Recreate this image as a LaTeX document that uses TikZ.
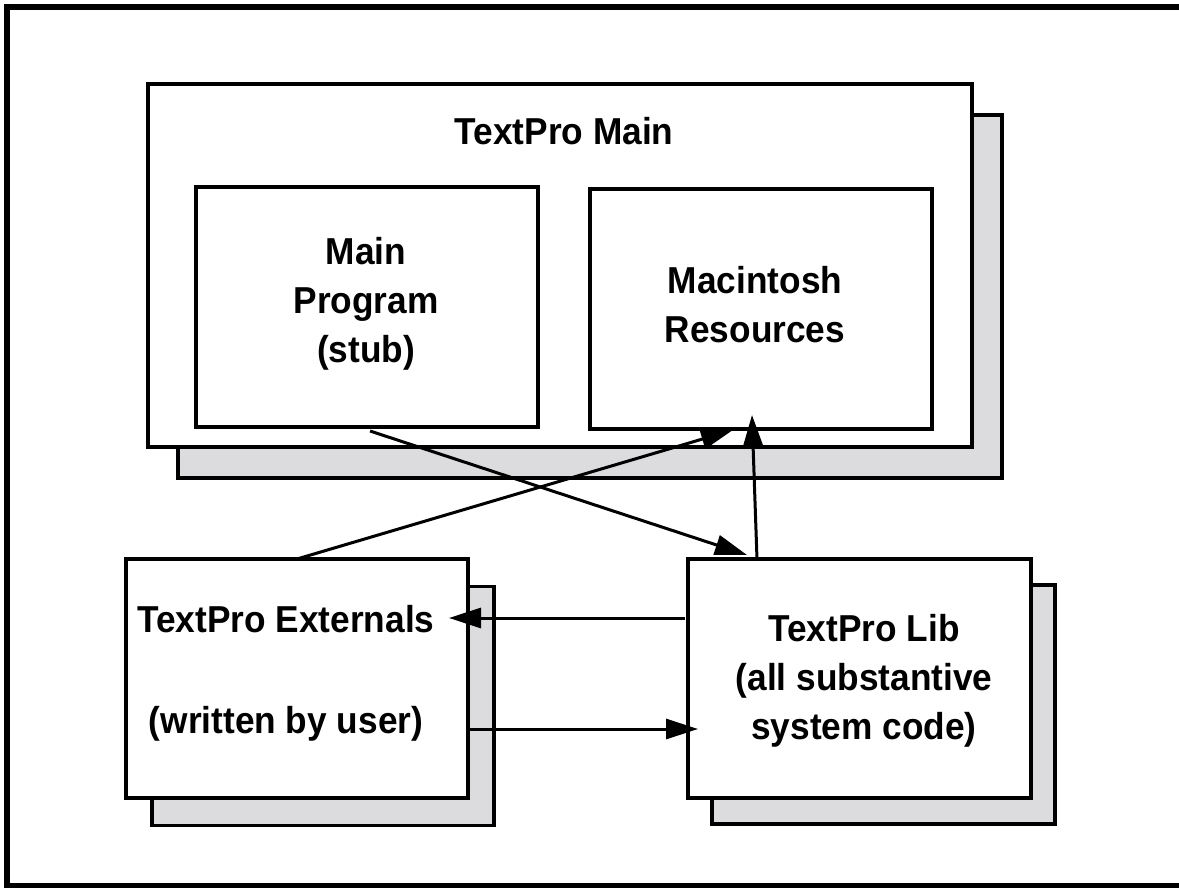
\documentclass[tikz,border=0pt]{standalone}
\usepackage{fontspec}
\setmainfont{Liberation Sans}[FakeStretch=0.94]
\usetikzlibrary{arrows.meta,calc}
\definecolor{shadowgray}{RGB}{220,219,222}
\begin{document}
\begin{tikzpicture}[x=1pt,y=-1pt,
  box/.style={draw, line width=3.5pt, fill=white, rectangle, inner sep=0pt, outer sep=0pt},
  shadebox/.style={box, fill=shadowgray},
  lbl/.style={font=\fontsize{37.5}{49}\selectfont\bfseries, align=center, anchor=base, inner sep=0pt},
  arr/.style={line width=3pt, -{Triangle[length=32pt,width=20pt]}}]
\useasboundingbox (0,0) rectangle (1179,888);
\draw[line width=6pt] (7,7) rectangle (1188,886);
% TextPro Main
\node[shadebox, minimum width=824pt, minimum height=363pt] (mainsh) at (590,296.5) {};
\node[box, minimum width=824pt, minimum height=363pt] (main) at (560,265.5) {};
\node[box, minimum width=342pt, minimum height=240pt] (prog) at (367,307) {};
\node[box, minimum width=342pt, minimum height=240pt] (mac) at (761,309) {};
% Externals
\node[shadebox, minimum width=342pt, minimum height=239pt] (extsh) at (323,706) {};
\node[box, minimum width=342pt, minimum height=239pt] (ext) at (297,678.5) {};
% Lib
\node[shadebox, minimum width=343pt, minimum height=239pt] (libsh) at (883.5,704.5) {};
\node[box, minimum width=343pt, minimum height=239pt] (lib) at (859.5,678.5) {};
% labels
\node[lbl] (maint) at (564,145) {TextPro Main};
\node[lbl] (progt) at (366,362) {Main\\Program\\(stub)};
\node[lbl] (mact) at (755,342) {Macintosh\\Resources};
\node[lbl] (extt) at (286,733) {TextPro Externals\\[52pt](written by user)};
\node[lbl] (libt) at (864,739) {TextPro Lib\\(all substantive\\system code)};
% connectors
\draw[arr] ($(prog.south)+(3,4)$) -- ($(lib.north west)+(59,-4)$);
\draw[arr] (ext.north) -- ($(mac.south west)+(143,1)$);
\draw[arr] ($(lib.north west)+(69,0)$) -- ($(mac.south west)+(162,-14)$);
\draw[arr] ($(lib.north west)+(-3,59)$) -- ($(ext.north east)+(-19,59)$);
\draw[arr] ($(ext.north east)+(0,170)$) -- ($(lib.north west)+(10,170)$);
\end{tikzpicture}
\end{document}
